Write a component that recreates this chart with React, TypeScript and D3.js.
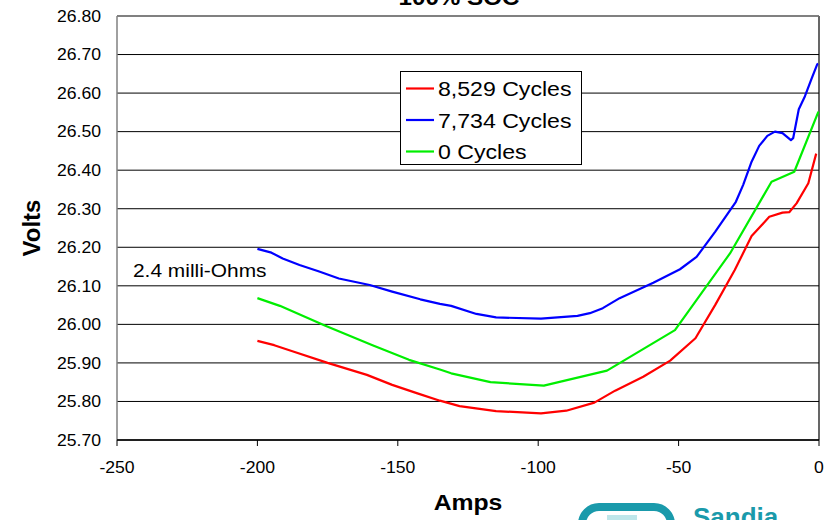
import React from "react";
import * as d3 from "d3";

const xTicks = [-250, -200, -150, -100, -50, 0];
const yTicks = [25.7, 25.8, 25.9, 26.0, 26.1, 26.2, 26.3, 26.4, 26.5, 26.6, 26.7, 26.8];

const cycles8529: [number, number][] = [
  [-200, 25.957], [-194, 25.946], [-187, 25.929], [-175, 25.900], [-161, 25.869],
  [-152, 25.843], [-143, 25.821], [-135, 25.802], [-128, 25.788], [-115, 25.775],
  [-99, 25.769], [-90, 25.776], [-80, 25.797], [-72.6, 25.828], [-62.6, 25.864],
  [-53, 25.906], [-44, 25.964], [-37, 26.05], [-30, 26.141], [-24, 26.229],
  [-17.7, 26.279], [-13, 26.29], [-10.6, 26.291], [-8, 26.314], [-3.8, 26.366],
  [-1, 26.443],
];

const cycles7734: [number, number][] = [
  [-200, 26.196], [-195, 26.186], [-191, 26.171], [-185, 26.154], [-178, 26.137],
  [-171, 26.119], [-160, 26.102], [-152, 26.085], [-142, 26.065], [-135, 26.053],
  [-131, 26.048], [-122, 26.027], [-115, 26.018], [-99, 26.015], [-86, 26.022],
  [-81.6, 26.029], [-77, 26.042], [-71, 26.068], [-68.5, 26.076], [-59, 26.108],
  [-49.5, 26.143], [-43.6, 26.175], [-37, 26.24], [-29.6, 26.318], [-27, 26.362],
  [-24, 26.422], [-21.3, 26.463], [-18.4, 26.489], [-15.7, 26.5], [-13, 26.496],
  [-10, 26.478], [-9.2, 26.483], [-7.2, 26.558], [-5, 26.592], [-2.6, 26.638],
  [-0.6, 26.675], [-0.3, 26.676],
];

const cycles0: [number, number][] = [
  [-200, 26.068], [-192, 26.048], [-176, 25.997], [-159, 25.946], [-146, 25.908],
  [-135, 25.883], [-131, 25.873], [-117, 25.85], [-98, 25.841], [-75.5, 25.88],
  [-51.3, 25.985], [-31.7, 26.184], [-16.9, 26.37], [-8.8, 26.396], [-0.2, 26.552],
];

const seriesNames = ["8,529 Cycles", "7,734 Cycles", "0 Cycles"];
const seriesColors = ["#ff0000", "#0000ff", "#00ee00"];
const seriesData = [cycles8529, cycles7734, cycles0];

const FONT = "'Liberation Sans', Arial, sans-serif";

const SText = ({ x, y, anchor = "start", size, weight = "normal", fill = "#000", sx = 1.1, children }: any) => (
  <text
    transform={`translate(${x},${y}) scale(${sx},1)`}
    textAnchor={anchor}
    fontSize={size}
    fontWeight={weight}
    fill={fill}
    fontFamily={FONT}
  >
    {children}
  </text>
);

export default function App() {
  const left = 117, right = 819, top = 16, bottom = 440;
  const x = d3.scaleLinear().domain([-250, 0]).range([left, right]);
  const y = d3.scaleLinear().domain([25.7, 26.8]).range([bottom, top]);
  const line = d3.line<[number, number]>().x((d) => x(d[0])).y((d) => y(d[1]));

  return (
    <svg width={833} height={520} style={{ position: "absolute", left: 0, top: 0, background: "#fff" }}>
      {/* title */}
      <SText x={459} y={5} anchor="middle" size={22} weight="bold">100% SOC</SText>

      {/* gridlines */}
      {yTicks.map((t) => (
        <line key={t} x1={left} x2={right} y1={y(t)} y2={y(t)} stroke="#000" strokeWidth={1} />
      ))}
      {/* frame */}
      <line x1={left} x2={left} y1={top} y2={bottom} stroke="#808080" strokeWidth={1.5} />
      <line x1={right} x2={right} y1={top} y2={bottom} stroke="#000" strokeWidth={1.2} />
      <line x1={left} x2={right} y1={top} y2={top} stroke="#808080" strokeWidth={1.5} />
      <line x1={left} x2={right} y1={bottom} y2={bottom} stroke="#000" strokeWidth={1.5} />

      {/* x ticks */}
      {xTicks.map((t) => (
        <g key={t}>
          <line x1={x(t)} x2={x(t)} y1={bottom} y2={bottom + 6} stroke="#000" strokeWidth={1} />
          <SText x={x(t)} y={473} anchor="middle" size={16}>{t}</SText>
        </g>
      ))}
      {/* y tick labels */}
      {yTicks.map((t) => (
        <SText key={t} x={101} y={y(t) + 5.8} anchor="end" size={16}>{t.toFixed(2)}</SText>
      ))}

      {/* series */}
      {seriesData.map((d, i) => (
        <path key={i} d={line(d) || ""} fill="none" stroke={seriesColors[i]} strokeWidth={2.2} strokeLinejoin="round" />
      ))}

      {/* annotation */}
      <SText x={133} y={277} size={19}>2.4 milli-Ohms</SText>

      {/* legend */}
      <rect x={400.5} y={71.5} width={181} height={93} fill="#fff" stroke="#000" strokeWidth={1} />
      {seriesNames.map((n, i) => {
        const cy = 88.5 + i * 31.5;
        return (
          <g key={n}>
            <line x1={406} x2={434} y1={cy} y2={cy} stroke={seriesColors[i]} strokeWidth={2.2} />
            <SText x={438} y={cy + 7.5} size={21}>{n}</SText>
          </g>
        );
      })}

      {/* axis titles */}
      <SText x={468} y={510} anchor="middle" size={22.5} weight="bold">Amps</SText>
      <text
        transform="translate(40,228) rotate(-90)"
        textAnchor="middle"
        fontSize={24}
        fontWeight="bold"
        fontFamily={FONT}
      >
        Volts
      </text>

      {/* logo fragment */}
      <rect x={582} y={507} width={89} height={40} rx={17} fill="none" stroke="#1a9aab" strokeWidth={8} />
      <rect x={607} y={515} width={30} height={10} fill="#bfe6ea" />
      <SText x={693} y={526} size={26} weight="bold" fill="#1a9aab" sx={1}>Sandia</SText>
    </svg>
  );
}
